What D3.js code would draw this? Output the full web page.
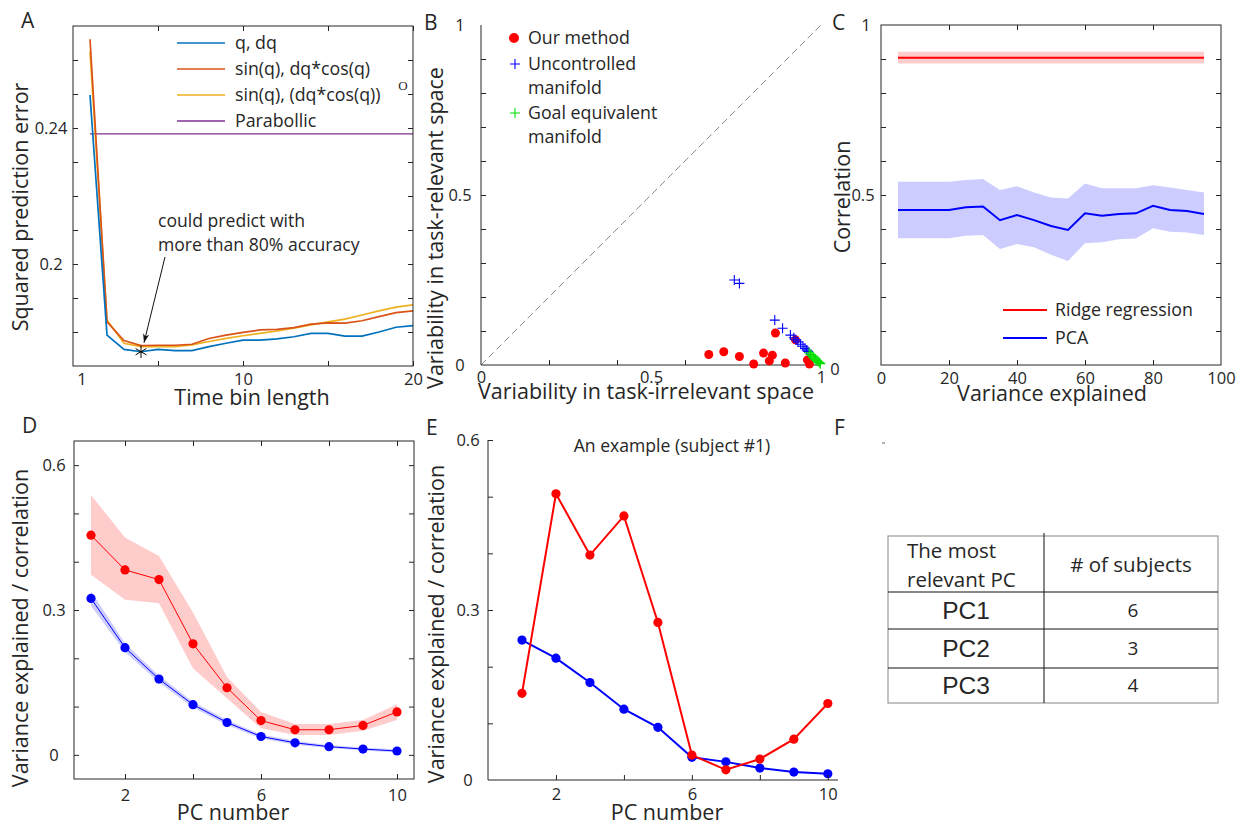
<!DOCTYPE html>
<html>
<head>
<meta charset="utf-8">
<script src="https://cdn.jsdelivr.net/npm/d3@7"></script>
<style>
  body { margin: 0; background: #fff; }
  svg { display: block; }
  text { font-family: "Open Sans", "Noto Sans", sans-serif; fill: #262626; }
</style>
</head>
<body>
<div id="app"></div>
<script>
// ---- panel A: prediction error vs time bin ----
var aBins = [1, 2, 3, 4, 5, 6, 7, 8, 9, 10, 11, 12, 13, 14, 15, 16, 17, 18, 19, 20];
var aQdq = [0.2497, 0.1791, 0.1749, 0.1742, 0.1749, 0.1745, 0.1745, 0.1757, 0.1767, 0.1776,
            0.1776, 0.1780, 0.1786, 0.1796, 0.1796, 0.1788, 0.1788, 0.1800, 0.1814, 0.1819];
var aSinCos = [0.2661, 0.1830, 0.1775, 0.1760, 0.1761, 0.1761, 0.1764, 0.1781, 0.1791, 0.1799,
               0.1806, 0.1808, 0.1813, 0.1823, 0.1827, 0.1826, 0.1833, 0.1845, 0.1857, 0.1862];
var aSinCos2 = [0.2625, 0.1835, 0.1767, 0.1757, 0.1757, 0.1757, 0.1762, 0.1772, 0.1781, 0.1789,
                0.1796, 0.1803, 0.1811, 0.1821, 0.1830, 0.1838, 0.1850, 0.1862, 0.1873, 0.1880];
var aParabolic = [0.2383, 0.2383];
var aParabolicBins = [1, 20];
var aLegend = ['q, dq', 'sin(q), dq*cos(q)', 'sin(q), (dq*cos(q))', 'Parabollic'];
var aXTicks = [5, 10, 15, 20];
var aXLabelPos = [0.5, 10, 20];
var aXLabels = ['1', '10', '20'];
var aYTicks = [0.18, 0.19, 0.2, 0.21, 0.22, 0.23, 0.24, 0.25, 0.26];
var aYLabelPos = [0.2, 0.24];
var aYLabels = ['0.2', '0.24'];
var aStar = { bin: 4, value: 0.1742 };

// ---- panel B: variability ----
var bOurX = [0.670, 0.714, 0.760, 0.802, 0.831, 0.848, 0.857, 0.866, 0.895, 0.925, 0.960, 0.966];
var bOurY = [0.031, 0.039, 0.025, 0.003, 0.035, 0.012, 0.029, 0.094, 0.006, 0.074, 0.015, 0.003];
var bUcmX = [0.745, 0.760, 0.864, 0.887, 0.910, 0.920, 0.926, 0.932, 0.940, 0.947, 0.953, 0.958, 0.962];
var bUcmY = [0.250, 0.240, 0.132, 0.108, 0.088, 0.080, 0.074, 0.068, 0.061, 0.055, 0.049, 0.044, 0.040];
var bGemX = [0.965, 0.969, 0.973, 0.977, 0.980, 0.984, 0.988, 0.991, 0.995, 0.998];
var bGemY = [0.036, 0.031, 0.027, 0.024, 0.020, 0.017, 0.013, 0.010, 0.007, 0.004];
var bXTicks = [0.2, 0.4, 0.6, 0.8];
var bYTicks = [0.1, 0.2, 0.3, 0.4, 0.5, 0.6, 0.7, 0.8, 0.9];
var bLabelPos = [0, 0.5, 1];
var bLabels = ['0', '0.5', '1'];

// ---- panel C: correlation vs variance explained ----
var cVar = [5, 10, 15, 20, 25, 30, 35, 40, 45, 50, 55, 60, 65, 70, 75, 80, 85, 90, 95];
var cRidgeMean = [0.904, 0.904, 0.904, 0.904, 0.904, 0.904, 0.904, 0.904, 0.904, 0.904,
                  0.904, 0.904, 0.904, 0.904, 0.904, 0.904, 0.904, 0.904, 0.904];
var cRidgeHi = [0.921, 0.921, 0.921, 0.921, 0.921, 0.921, 0.921, 0.921, 0.921, 0.921,
                0.921, 0.921, 0.921, 0.921, 0.921, 0.921, 0.921, 0.921, 0.921];
var cRidgeLo = [0.887, 0.887, 0.887, 0.887, 0.887, 0.887, 0.887, 0.887, 0.887, 0.887,
                0.887, 0.887, 0.887, 0.887, 0.887, 0.887, 0.887, 0.887, 0.887];
var cPcaMean = [0.456, 0.456, 0.456, 0.456, 0.464, 0.466, 0.426, 0.441, 0.426, 0.409,
                0.397, 0.446, 0.439, 0.444, 0.446, 0.468, 0.456, 0.453, 0.444];
var cPcaHi = [0.539, 0.539, 0.539, 0.539, 0.544, 0.547, 0.515, 0.526, 0.507, 0.493,
              0.490, 0.534, 0.520, 0.520, 0.520, 0.529, 0.522, 0.515, 0.507];
var cPcaLo = [0.373, 0.373, 0.373, 0.373, 0.380, 0.382, 0.341, 0.356, 0.346, 0.324,
              0.306, 0.358, 0.361, 0.370, 0.372, 0.402, 0.392, 0.390, 0.382];
var cXTicks = [0, 20, 40, 60, 80, 100];
var cYTicks = [0.1, 0.2, 0.3, 0.4, 0.5, 0.6, 0.7, 0.8, 0.9];
var cLabelPos = [0, 0.5, 1];
var cLabels = ['0', '0.5', '1'];

// ---- panel D: mean over subjects ----
var dPC = [1, 2, 3, 4, 5, 6, 7, 8, 9, 10];
var dCorrMean = [0.455, 0.383, 0.363, 0.230, 0.139, 0.071, 0.052, 0.052, 0.061, 0.089];
var dCorrHi = [0.538, 0.450, 0.412, 0.295, 0.161, 0.089, 0.064, 0.064, 0.072, 0.105];
var dCorrLo = [0.373, 0.321, 0.314, 0.179, 0.117, 0.055, 0.041, 0.041, 0.050, 0.072];
var dVarMean = [0.324, 0.222, 0.157, 0.104, 0.067, 0.038, 0.025, 0.017, 0.012, 0.008];
var dVarHi = [0.339, 0.231, 0.164, 0.110, 0.072, 0.042, 0.029, 0.020, 0.015, 0.011];
var dVarLo = [0.309, 0.213, 0.150, 0.098, 0.062, 0.034, 0.021, 0.014, 0.009, 0.005];
var pcTicks = [2, 4, 6, 8, 10];
var pcLabels = [2, 6, 10];
var dYTicks = [0, 0.1, 0.2, 0.3, 0.4, 0.5, 0.6];
var dYLabels = [0, 0.3, 0.6];

// ---- panel E: subject #1 ----
var eCorr = [0.153, 0.505, 0.397, 0.466, 0.278, 0.044, 0.018, 0.037, 0.072, 0.135];
var eVar = [0.247, 0.215, 0.172, 0.125, 0.093, 0.040, 0.032, 0.021, 0.014, 0.011];
var eYTicks = [0.1, 0.2, 0.3, 0.4, 0.5, 0.6];
var eYLabels = [0, 0.3, 0.6];

// ---- panel F: table ----
var fHeader = [['The most', 'relevant PC'], ['# of subjects']];
var fPCs = ['PC1', 'PC2', 'PC3'];
var fCounts = [6, 3, 4];

var INK = '#262626';
var TICK_FS = 16.5, TITLE_FS = 21.5, LEG_FS = 17.8;
var svg = d3.select('#app').append('svg').attr('width', 1240).attr('height', 826);
svg.append('rect').attr('width', 1240).attr('height', 826).attr('fill', '#fff');

function styleAxis(sel) {
    sel.select('.domain').remove();
    sel.attr('font-family', null).attr('font-size', TICK_FS);
    sel.selectAll('line').attr('stroke', INK);
    sel.selectAll('text').attr('fill', INK);
}

function ticks(g, axis, tx, ty) {
    g.append('g').attr('transform', 'translate(' + tx + ',' + ty + ')')
        .call(axis.tickSize(-5).tickFormat(''))
        .call(styleAxis);
}

function labelsBottom(g, scale, values, fmt, y, pad) {
    g.append('g').attr('transform', 'translate(0,' + y + ')')
        .call(d3.axisBottom(scale).tickValues(values).tickSize(0).tickPadding(pad).tickFormat(fmt))
        .call(styleAxis);
}

// off may be a number or a function(value) -> offset from the axis line
function labelsLeft(g, scale, values, fmt, x, off) {
    return g.append('g').attr('transform', 'translate(' + x + ',0)')
        .call(d3.axisLeft(scale).tickValues(values).tickSize(0).tickFormat(fmt))
        .call(styleAxis)
        .selectAll('text').attr('text-anchor', 'middle')
        .attr('x', function(d) { return -(typeof off === 'function' ? off(d) : off); });
}

function frame(g, x0, y0, x1, y1) {
    g.append('rect').attr('x', x0).attr('y', y0).attr('width', x1 - x0).attr('height', y1 - y0)
        .attr('fill', 'none').attr('stroke', INK).attr('stroke-width', 1);
}

function yTitle(g, text, x, y) {
    g.append('text').attr('transform', 'translate(' + x + ',' + y + ') rotate(-90)')
        .attr('text-anchor', 'middle').attr('font-size', TITLE_FS).text(text);
}

function xTitle(g, text, x, y) {
    g.append('text').attr('x', x).attr('y', y).attr('text-anchor', 'middle')
        .attr('font-size', TITLE_FS).text(text);
}

function panelLabel(text, x, y) {
    svg.append('text').attr('x', x).attr('y', y).attr('font-size', 21).text(text);
}

// ================= A =================
var gA = svg.append('g');
var ax = d3.scaleLinear().domain([0, 20]).range([73, 413]);
var ay = d3.scaleLinear().domain([0.17, 0.27]).range([366, 26]);
var aLines = [
    { v: aQdq, c: '#0072BD' },
    { v: aSinCos, c: '#D95319' },
    { v: aSinCos2, c: '#EDB120' }
];
var aLine = d3.line().x(function(d, i) { return ax(aBins[i]); }).y(function(d) { return ay(d); });
gA.append('path').datum(aParabolic)
    .attr('d', d3.line().x(function(d, i) { return ax(aParabolicBins[i]); }).y(function(d) { return ay(d); }))
    .attr('fill', 'none').attr('stroke', '#7E2F8E').attr('stroke-width', 1.3);
aLines.slice().reverse().forEach(function(l) {
    gA.append('path').datum(l.v).attr('d', aLine)
        .attr('fill', 'none').attr('stroke', l.c).attr('stroke-width', 1.7);
});
frame(gA, 73, 26, 413, 366);
ticks(gA, d3.axisBottom(ax).tickValues(aXTicks), 0, 366);
ticks(gA, d3.axisTop(ax).tickValues(aXTicks), 0, 26);
ticks(gA, d3.axisLeft(ay).tickValues(aYTicks), 73, 0);
ticks(gA, d3.axisRight(ay).tickValues(aYTicks), 413, 0);
labelsBottom(gA, ax, aXLabelPos, function(d, i) { return aXLabels[i]; }, 366, 7);
labelsLeft(gA, ay, aYLabelPos, function(d, i) { return aYLabels[i]; }, 73, 22);
yTitle(gA, 'Squared prediction error', 28, 207);
xTitle(gA, 'Time bin length', 252, 405);

var aColors = ['#0072BD', '#D95319', '#EDB120', '#7E2F8E'];
aLegend.forEach(function(t, i) {
    var y = 43 + i * 26;
    gA.append('line').attr('x1', 177).attr('x2', 225).attr('y1', y).attr('y2', y)
        .attr('stroke', aColors[i]).attr('stroke-width', 1.7);
    gA.append('text').attr('x', 235).attr('y', y).attr('dy', '0.35em').attr('font-size', LEG_FS).text(t);
});
gA.append('text').attr('x', 403).attr('y', 90).attr('text-anchor', 'middle')
    .style('font-family', '"Liberation Serif", serif').attr('font-size', 13).text('O');

// annotation
gA.append('text').attr('x', 158).attr('y', 227).attr('font-size', 17.6).text('could predict with');
gA.append('text').attr('x', 158).attr('y', 251).attr('font-size', 17.6).text('more than 80% accuracy');
var defs = svg.append('defs');
defs.append('marker').attr('id', 'arr').attr('viewBox', '0 0 10 10').attr('refX', 10).attr('refY', 5)
    .attr('markerWidth', 9).attr('markerHeight', 9).attr('orient', 'auto-start-reverse')
    .attr('markerUnits', 'userSpaceOnUse')
    .append('path').attr('d', 'M0,1.5 L10,5 L0,8.5 L3,5 Z').attr('fill', '#111');
var sx = ax(aStar.bin), sy = ay(aStar.value);
gA.append('line').attr('x1', 165).attr('y1', 257).attr('x2', sx + 3).attr('y2', sy - 9)
    .attr('stroke', '#111').attr('stroke-width', 1).attr('marker-end', 'url(#arr)');
gA.append('path').attr('transform', 'translate(' + sx + ',' + sy + ')')
    .attr('d', d3.symbol().type(d3.symbolAsterisk).size(110))
    .attr('fill', 'none').attr('stroke', '#000').attr('stroke-width', 1);

// ================= B =================
var gB = svg.append('g');
var bx = d3.scaleLinear().domain([0, 1]).range([481, 821]);
var by = d3.scaleLinear().domain([0, 1]).range([365, 25]);
gB.append('line').attr('x1', bx(0)).attr('y1', by(0)).attr('x2', bx(1)).attr('y2', by(1))
    .attr('stroke', '#8a8a8a').attr('stroke-width', 1).attr('stroke-dasharray', '7,4');
gB.append('line').attr('x1', 481).attr('x2', 481).attr('y1', 25).attr('y2', 365).attr('stroke', INK);
gB.append('line').attr('x1', 481).attr('x2', 821).attr('y1', 365).attr('y2', 365).attr('stroke', INK);
ticks(gB, d3.axisBottom(bx).tickValues(bXTicks), 0, 365);
ticks(gB, d3.axisLeft(by).tickValues(bYTicks), 481, 0);
labelsBottom(gB, bx, bLabelPos, function(d, i) { return bLabels[i]; }, 365, 6);
labelsLeft(gB, by, bLabelPos, function(d, i) { return bLabels[i]; }, 481, 21);

function plus(g, x, y, color) {
    g.append('path').attr('transform', 'translate(' + x + ',' + y + ')')
        .attr('d', 'M-5,0H5M0,-5V5').attr('stroke', color).attr('stroke-width', 1.1).attr('fill', 'none');
}
bOurX.forEach(function(d, i) {
    gB.append('circle').attr('cx', bx(d)).attr('cy', by(bOurY[i])).attr('r', 4.5).attr('fill', '#ff0000');
});
bUcmX.forEach(function(d, i) { plus(gB, bx(d), by(bUcmY[i]), '#0000ff'); });
bGemX.forEach(function(d, i) { plus(gB, bx(d), by(bGemY[i]), '#00e000'); });

gB.append('circle').attr('cx', 514).attr('cy', 38).attr('r', 5).attr('fill', '#ff0000');
plus(gB, 515, 64, '#0000ff');
plus(gB, 515, 113, '#00e000');
var bLeg = [['Our method', 38], ['Uncontrolled', 64], ['manifold', 88], ['Goal equivalent', 113], ['manifold', 137]];
bLeg.forEach(function(r) {
    gB.append('text').attr('x', 528).attr('y', r[1]).attr('dy', '0.35em').attr('font-size', LEG_FS).text(r[0]);
});
yTitle(gB, 'Variability in task-relevant space', 443, 228);
xTitle(gB, 'Variability in task-irrelevant space', 646, 399);

// ================= C =================
var gC = svg.append('g');
var cx = d3.scaleLinear().domain([0, 100]).range([881, 1221]);
var cy = d3.scaleLinear().domain([0, 1]).range([365, 25]);
var cArea = function(lo, hi) {
    return d3.area().x(function(d, i) { return cx(cVar[i]); })
        .y0(function(d, i) { return cy(lo[i]); }).y1(function(d, i) { return cy(hi[i]); });
};
var cLine = d3.line().x(function(d, i) { return cx(cVar[i]); }).y(function(d) { return cy(d); });
gC.append('path').datum(cVar).attr('d', cArea(cRidgeLo, cRidgeHi)).attr('fill', '#ff0000').attr('fill-opacity', 0.2);
gC.append('path').datum(cVar).attr('d', cArea(cPcaLo, cPcaHi)).attr('fill', '#0000ff').attr('fill-opacity', 0.2);
gC.append('path').datum(cRidgeMean).attr('d', cLine).attr('fill', 'none').attr('stroke', '#ff0000').attr('stroke-width', 2);
gC.append('path').datum(cPcaMean).attr('d', cLine).attr('fill', 'none').attr('stroke', '#0000ff').attr('stroke-width', 2);
frame(gC, 881, 25, 1221, 365);
ticks(gC, d3.axisBottom(cx).tickValues([20, 40, 60, 80]), 0, 365);
ticks(gC, d3.axisTop(cx).tickValues([20, 40, 60, 80]), 0, 25);
ticks(gC, d3.axisLeft(cy).tickValues(cYTicks), 881, 0);
ticks(gC, d3.axisRight(cy).tickValues(cYTicks), 1221, 0);
labelsBottom(gC, cx, cXTicks, d3.format('d'), 365, 7);
labelsLeft(gC, cy, cLabelPos, function(d, i) { return cLabels[i]; }, 881,
    function(d) { return d === 0 ? 46 : (d === 1 ? 15 : 18); })
    .attr('dy', function(d) { return d === 0 ? '0.6em' : '0.32em'; });
[['Ridge regression', '#ff0000', 310], ['PCA', '#0000ff', 338]].forEach(function(r) {
    gC.append('line').attr('x1', 1003).attr('x2', 1047).attr('y1', r[2]).attr('y2', r[2])
        .attr('stroke', r[1]).attr('stroke-width', 2);
    gC.append('text').attr('x', 1055).attr('y', r[2]).attr('dy', '0.35em').attr('font-size', LEG_FS).text(r[0]);
});
yTitle(gC, 'Correlation', 850, 197);
xTitle(gC, 'Variance explained', 1052, 401);

// ================= D =================
var gD = svg.append('g');
var dx = d3.scaleLinear().domain([0.5, 10.5]).range([74, 414]);
var dy = d3.scaleLinear().domain([-0.05, 0.65]).range([779, 441]);
var dArea = function(lo, hi) {
    return d3.area().x(function(d, i) { return dx(dPC[i]); })
        .y0(function(d, i) { return dy(lo[i]); }).y1(function(d, i) { return dy(hi[i]); });
};
var dLine = d3.line().x(function(d, i) { return dx(dPC[i]); }).y(function(d) { return dy(d); });
gD.append('path').datum(dPC).attr('d', dArea(dCorrLo, dCorrHi)).attr('fill', '#ff0000').attr('fill-opacity', 0.2);
gD.append('path').datum(dPC).attr('d', dArea(dVarLo, dVarHi)).attr('fill', '#0000ff').attr('fill-opacity', 0.2);
[[dCorrMean, '#ff0000'], [dVarMean, '#0000ff']].forEach(function(s) {
    gD.append('path').datum(s[0]).attr('d', dLine).attr('fill', 'none').attr('stroke', s[1]).attr('stroke-width', 1);
    gD.selectAll(null).data(s[0]).enter().append('circle')
        .attr('cx', function(d, i) { return dx(dPC[i]); }).attr('cy', function(d) { return dy(d); })
        .attr('r', 4.6).attr('fill', s[1]);
});
frame(gD, 74, 441, 414, 779);
ticks(gD, d3.axisBottom(dx).tickValues(pcTicks), 0, 779);
ticks(gD, d3.axisTop(dx).tickValues(pcTicks), 0, 441);
ticks(gD, d3.axisLeft(dy).tickValues(dYTicks), 74, 0);
ticks(gD, d3.axisRight(dy).tickValues(dYTicks), 414, 0);
labelsBottom(gD, dx, pcLabels, d3.format('d'), 779, 10);
labelsLeft(gD, dy, dYLabels, d3.format('~g'), 74, 20);
yTitle(gD, 'Variance explained / correlation', 28, 628);
xTitle(gD, 'PC number', 233, 820);

// ================= E =================
var gE = svg.append('g');
var ex = d3.scaleLinear().domain([0, 10.3]).range([488, 838]);
var ey = d3.scaleLinear().domain([0, 0.6]).range([780, 440]);
var eLine = d3.line().x(function(d, i) { return ex(dPC[i]); }).y(function(d) { return ey(d); });
[[eVar, '#0000ff'], [eCorr, '#ff0000']].forEach(function(s) {
    gE.append('path').datum(s[0]).attr('d', eLine).attr('fill', 'none').attr('stroke', s[1]).attr('stroke-width', 2);
    gE.selectAll(null).data(s[0]).enter().append('circle')
        .attr('cx', function(d, i) { return ex(dPC[i]); }).attr('cy', function(d) { return ey(d); })
        .attr('r', 4.6).attr('fill', s[1]);
});
gE.append('line').attr('x1', 488).attr('x2', 488).attr('y1', 440).attr('y2', 780).attr('stroke', INK);
gE.append('line').attr('x1', 488).attr('x2', 838).attr('y1', 780).attr('y2', 780).attr('stroke', INK);
ticks(gE, d3.axisBottom(ex).tickValues(pcTicks), 0, 780);
ticks(gE, d3.axisLeft(ey).tickValues(eYTicks), 488, 0);
labelsBottom(gE, ex, pcLabels, d3.format('d'), 780, 8);
labelsLeft(gE, ey, eYLabels, d3.format('~g'), 488, 20);
gE.append('text').attr('x', 672).attr('y', 446).attr('dy', '0.35em').attr('text-anchor', 'middle')
    .attr('font-size', 17.6).text('An example (subject #1)');
yTitle(gE, 'Variance explained / correlation', 444, 624);
xTitle(gE, 'PC number', 667, 820);

// ================= F =================
var gF = svg.append('g');
var fRowY = [592, 629, 668, 703];
gF.append('line').attr('x1', 882).attr('x2', 885).attr('y1', 443).attr('y2', 443).attr('stroke', '#666');
gF.append('rect').attr('x', 888).attr('y', 536).attr('width', 330).attr('height', 167)
    .attr('fill', 'none').attr('stroke', '#9a9a9a').attr('stroke-width', 1.2);
gF.append('line').attr('x1', 1044).attr('x2', 1044).attr('y1', 533).attr('y2', 703).attr('stroke', '#111');
fRowY.slice(0, 3).forEach(function(y) {
    gF.append('line').attr('x1', 888).attr('x2', 1218).attr('y1', y).attr('y2', y).attr('stroke', '#111');
});
gF.append('text').attr('x', 907).attr('y', 551).attr('dy', '0.35em').attr('font-size', 20.5).text(fHeader[0][0]);
gF.append('text').attr('x', 907).attr('y', 580).attr('dy', '0.35em').attr('font-size', 20.5).text(fHeader[0][1]);
gF.append('text').attr('x', 1131).attr('y', 565).attr('dy', '0.35em').attr('text-anchor', 'middle')
    .attr('font-size', 20.5).text(fHeader[1][0]);
fPCs.forEach(function(p, i) {
    var y = (fRowY[i] + fRowY[i + 1]) / 2;
    gF.append('text').attr('x', 966).attr('y', y).attr('dy', '0.36em').attr('text-anchor', 'middle')
        .style('font-family', '"Liberation Sans", Arial, sans-serif').attr('font-size', 24.5).text(p);
    gF.append('text').attr('x', 1133).attr('y', y).attr('dy', '0.36em').attr('text-anchor', 'middle')
        .attr('font-size', 19).text(fCounts[i]);
});

panelLabel('A', 21, 28);
panelLabel('B', 424, 30);
panelLabel('C', 832, 30);
panelLabel('D', 22, 433);
panelLabel('E', 426, 435);
panelLabel('F', 834, 435);
</script>
</body>
</html>
